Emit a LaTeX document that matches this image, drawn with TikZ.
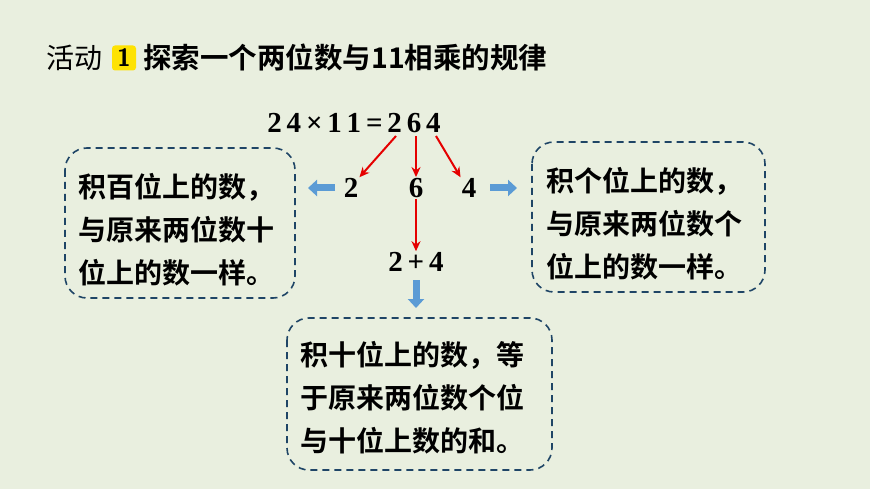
\documentclass[tikz,border=0pt]{standalone}
\usepackage{fontspec}
\newfontfamily\cjk{Noto Sans CJK SC}
\newfontfamily\cjkb{Noto Sans CJK SC Bold}
\setmainfont{Liberation Serif}
\usetikzlibrary{arrows.meta}
\definecolor{bg}{HTML}{E9EFDF}
\definecolor{dash}{HTML}{1F4566}
\definecolor{barrow}{HTML}{5B9BD5}
\tikzset{
 dbox/.style={draw=dash,line width=1.6pt,dash pattern=on 7pt off 5pt,rounded corners=22pt},
 txt/.style={font=\cjkb\fontsize{28}{43}\selectfont,anchor=west,align=left,inner sep=0},
 num/.style={font=\bfseries\fontsize{29}{29}\selectfont,inner sep=1pt},
 rarrow/.style={draw=red!90!black,line width=2pt,-{Stealth[length=10pt,width=9pt]}},
 fat/.style={draw=barrow,line width=7pt,-{Triangle[length=9pt,width=16pt]}}
}
\begin{document}
\begin{tikzpicture}[x=1pt,y=-1pt]
\fill[bg] (0,0) rectangle (870,489);
\useasboundingbox (0,0) rectangle (870,489);
\node[anchor=west,inner sep=0,font=\cjk\fontsize{28}{28}\selectfont] (t1) at (46,58) {活动};
\node[fill=yellow!85!orange,rounded corners=3pt,minimum width=24pt,minimum height=25pt,inner sep=0,font=\sffamily\bfseries\fontsize{25}{25}\selectfont] (badge) at (124,58) {1};
\node[anchor=west,inner sep=0,font=\cjkb\fontsize{28.5}{28}\selectfont] (t2) at (143,58) {探索一个两位数与11相乘的规律};
\node[num] (eq) at (354,123) {2\,4\,×\,1\,1\,=\,2\,6\,4};
\coordinate (s2) at (396,136); \coordinate (s6) at (416,136); \coordinate (s4) at (436,136);
\node[num] (n2) at (351,188) {2};
\node[num] (n6) at (416,188) {6};
\node[num] (n4) at (469,188) {4};
\draw[rarrow] (s2) -- (n2.north east);
\draw[rarrow] (s6) -- (n6.north);
\draw[rarrow] (s4) -- (n4.north west);
\node[num] (sum) at (416,262) {2\,+\,4};
\draw[rarrow] (n6.south) -- (sum.north);
\coordinate (la) at (335,188); \coordinate (lb) at (308,188);
\coordinate (ra) at (490,188); \coordinate (rb) at (517,188);
\draw[fat] (la) -- (lb);
\draw[fat] (ra) -- (rb);
\coordinate (da) at (416,280); \coordinate (db) at (416,308);
\draw[fat] (da) -- (db);
\draw[dbox] (65,148) rectangle (295,298);
\draw[dbox] (532,142) rectangle (765,292);
\draw[dbox] (287,318) rectangle (552,470);
\node[txt] (lt) at (78,230) {积百位上的数，\\与原来两位数十\\位上的数一样。};
\node[txt] (rt) at (546,224) {积个位上的数，\\与原来两位数个\\位上的数一样。};
\node[txt] (bt) at (300,398) {积十位上的数，等\\于原来两位数个位\\与十位上数的和。};
\end{tikzpicture}
\end{document}
